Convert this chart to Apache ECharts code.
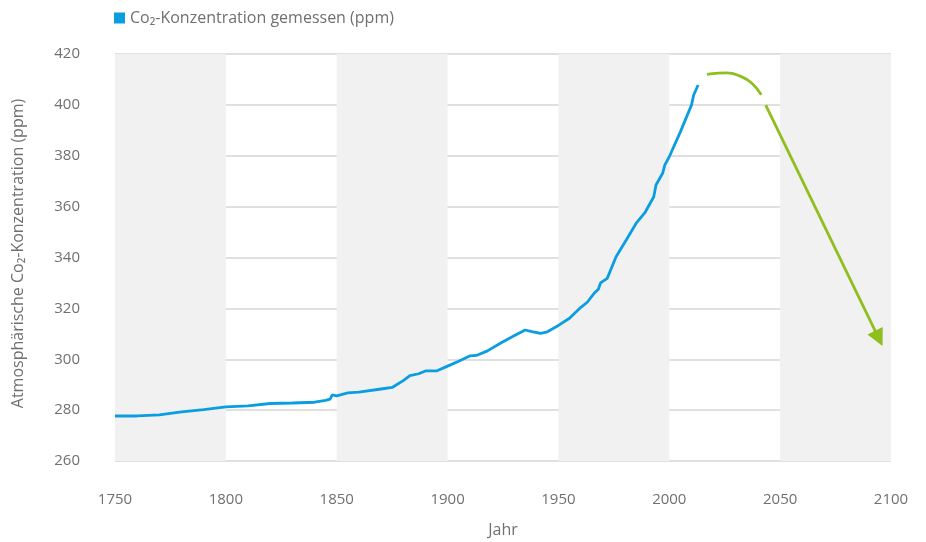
<!DOCTYPE html>
<html><head><meta charset="utf-8">
<script src="https://cdn.jsdelivr.net/npm/echarts@6/dist/echarts.min.js"></script>
<style>html,body{margin:0;padding:0;background:#fff}#c{width:926px;height:542px}</style>
</head><body><div id="c"></div>
<script>
const measuredYears = [1750,1760,1770,1780,1790,1800,1810,1820,1830,1840,1845,1847,1848,1850,1855,1860,1870,1875,1880,1883,1887,1890,1895,1900,1905,1910,1913,1918,1924,1930,1935,1938,1942,1945,1950,1955,1960,1963,1966,1968,1969,1972,1976,1981,1985,1989,1993,1994,1997,1998,2000,2005,2010,2011,2013];
const measuredPpm = [277.7,277.7,278.1,279.3,280.2,281.3,281.7,282.6,282.8,283.1,283.8,284.3,286.0,285.6,286.8,287.1,288.3,288.9,291.6,293.6,294.3,295.4,295.4,297.3,299.2,301.3,301.5,303.3,306.4,309.2,311.5,310.9,310.2,310.8,313.3,316.1,320.3,322.4,325.8,327.5,330.0,331.8,340.3,347.5,353.4,357.6,363.9,368.5,373.1,376.4,379.6,389.4,399.9,403.9,407.8];
const peakYears = [2017,2022,2026,2032,2037,2041.5];
const peakPpm = [412.0,412.5,412.6,411.3,408.7,404.0];
const arrowYears = [2043.5,2094.5];
const arrowPpm = [399.9,308.2];
const xTicks = {min:1750,max:2100,interval:50};
const yTicks = {min:260,max:420,interval:20};
const legendName = 'Co₂-Konzentration gemessen (ppm)';
const yName = 'Atmosphärische Co₂-Konzentration (ppm)';
const xName = 'Jahr';

const FONT = 'Open Sans';
const TXT = '#707070';
const chart = echarts.init(document.getElementById('c'));
chart.setOption({
  animation:false,
  textStyle:{fontFamily:FONT},
  grid:{left:115,right:35,top:54,bottom:81,containLabel:false,outerBoundsMode:'none'},
  legend:{left:109,top:5,data:[legendName],icon:'rect',itemWidth:11,itemHeight:11,itemGap:5,
    textStyle:{fontFamily:FONT,fontSize:16,color:TXT}},
  xAxis:{type:'value',min:xTicks.min,max:xTicks.max,interval:xTicks.interval,
    name:xName,nameLocation:'middle',nameGap:61,nameTextStyle:{fontFamily:FONT,fontSize:16,color:TXT},
    axisLine:{show:false},axisTick:{show:false},splitLine:{show:false},
    axisLabel:{margin:31,fontFamily:FONT,fontSize:15,color:TXT,formatter:v=>String(v)},
    splitArea:{show:true,areaStyle:{color:['#f1f1f1','rgba(255,255,255,0)']}}},
  yAxis:{type:'value',min:yTicks.min,max:yTicks.max,interval:yTicks.interval,
    name:yName,nameLocation:'middle',nameGap:89,nameTextStyle:{fontFamily:FONT,fontSize:16,color:TXT,padding:[0,0,0,8]},
    axisLine:{show:false},axisTick:{show:false},
    axisLabel:{margin:35,fontFamily:FONT,fontSize:15,color:TXT},
    splitLine:{show:true,lineStyle:{color:'#d6d6d6',width:1.5}}},
  series:[
    {name:legendName,type:'line',showSymbol:false,symbol:'none',
     data:measuredYears.map((y,i)=>[y,measuredPpm[i]]),
     itemStyle:{color:'#0a9ee0'},lineStyle:{color:'#0a9ee0',width:2.8}},
    {name:'peak',type:'line',showSymbol:false,symbol:'none',smooth:true,
     data:peakYears.map((y,i)=>[y,peakPpm[i]]),
     itemStyle:{color:'#8fbe1e'},lineStyle:{color:'#8fbe1e',width:2.8}},
    {name:'arrow',type:'lines',coordinateSystem:'cartesian2d',
     symbol:['none','triangle'],symbolSize:[13,17],
     itemStyle:{color:'#8fbe1e'},
     lineStyle:{color:'#8fbe1e',width:2.8,opacity:1},
     data:[{coords:arrowYears.map((y,i)=>[y,arrowPpm[i]])}]}
  ]
});
</script></body></html>
